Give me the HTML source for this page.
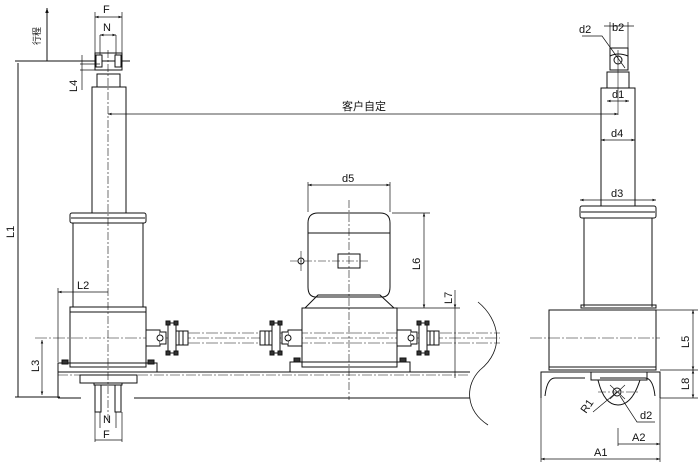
<!DOCTYPE html>
<html><head><meta charset="utf-8"><style>
html,body{margin:0;padding:0;background:#fff;}
svg{display:block;}
text{font-family:"Liberation Sans","Noto Sans CJK SC",sans-serif;font-size:11px;fill:#111;}
</style></head><body>
<svg width="700" height="471" viewBox="0 0 700 471" xmlns="http://www.w3.org/2000/svg">
<defs>
<marker id="ar" viewBox="0 0 10 10" refX="10" refY="5" markerWidth="7" markerHeight="5" orient="auto-start-reverse"><path d="M0,1.5L10,5L0,8.5z" fill="#111"/></marker>
<g id="cpl" stroke="#111" fill="#fff" stroke-width="1">
<rect x="0" y="-8" width="14" height="16"/>
<path d="M14,-6 h6 v12 h-6" />
<circle cx="14" cy="0" r="3"/>
<rect x="22" y="-15" width="8" height="30" rx="2"/>
<rect x="20" y="-17" width="4" height="4" fill="#333"/><rect x="28" y="-17" width="4" height="4" fill="#333"/>
<rect x="20" y="13" width="4" height="4" fill="#333"/><rect x="28" y="13" width="4" height="4" fill="#333"/>
<rect x="30" y="-7" width="12" height="14"/>
<line x1="33" y1="-7" x2="33" y2="7"/><line x1="37" y1="-7" x2="37" y2="7"/>
</g>
</defs>
<g stroke="#111" fill="none" stroke-width="1">
<line x1="15" y1="61" x2="130" y2="61"/>
<line x1="47" y1="61" x2="47" y2="8" marker-end="url(#ar)"/>
<line x1="18" y1="63" x2="18" y2="397"/>
<line x1="15" y1="397" x2="60" y2="397"/>
<line x1="95" y1="12" x2="95" y2="55" stroke-width="0.7"/><line x1="122" y1="12" x2="122" y2="55" stroke-width="0.7"/>
<line x1="95" y1="17" x2="122" y2="17" marker-start="url(#ar)" marker-end="url(#ar)" stroke-width="0.7"/>
<line x1="100" y1="35" x2="116" y2="35" marker-start="url(#ar)" marker-end="url(#ar)" stroke-width="0.7"/>
<line x1="100" y1="35" x2="100" y2="55" stroke-width="0.7"/><line x1="116" y1="35" x2="116" y2="55" stroke-width="0.7"/>
<path d="M95,53 h27 v17 h-27z"/>
<rect x="96" y="55" width="6" height="12" fill="#fff"/><rect x="115" y="55" width="6" height="12" fill="#fff"/>
<rect x="97" y="74" width="23" height="13"/>
<line x1="80" y1="64" x2="100" y2="64" stroke-width="0.7"/><line x1="80" y1="70" x2="100" y2="70" stroke-width="0.7"/>
<line x1="82" y1="55" x2="82" y2="90" stroke-width="0.7"/>
<rect x="92" y="87" width="34" height="126"/>
<rect x="70" y="213" width="76" height="10" rx="2"/>
<line x1="71" y1="218" x2="145" y2="218"/>
<path d="M73,223 v84 M143,223 v84"/>
<rect x="70" y="307" width="76" height="60"/>
<line x1="70" y1="312" x2="146" y2="312"/>
<rect x="58" y="363" width="99" height="9"/>
<rect x="62" y="360" width="6" height="4" fill="#333"/><rect x="148" y="360" width="6" height="4" fill="#333"/>
<line x1="58" y1="288" x2="58" y2="362" stroke-width="0.7"/>
<line x1="58" y1="292" x2="108" y2="292" marker-start="url(#ar)" stroke-width="0.7"/>
<line x1="42" y1="340" x2="42" y2="395" marker-start="url(#ar)" marker-end="url(#ar)" stroke-width="0.7"/>
<line x1="58" y1="372" x2="470" y2="372"/>
<line x1="58" y1="372" x2="58" y2="398"/>
<line x1="58" y1="398" x2="81" y2="398"/>
<line x1="134" y1="398" x2="470" y2="398"/>
<line x1="58" y1="375" x2="470" y2="375" stroke-dasharray="10,2,2,2" stroke-width="0.6"/>
<path d="M478,302 C500,320 505,350 480,370 C465,385 465,410 488,425" stroke-width="0.8"/>
<rect x="80" y="375" width="57" height="8"/>
<rect x="94" y="383" width="28" height="2"/>
<rect x="95" y="385" width="6" height="27"/><rect x="115" y="385" width="6" height="27"/>
<line x1="100" y1="412" x2="100" y2="428" stroke-width="0.7"/><line x1="116" y1="412" x2="116" y2="428" stroke-width="0.7"/>
<line x1="95" y1="412" x2="95" y2="442" stroke-width="0.7"/><line x1="122" y1="412" x2="122" y2="442" stroke-width="0.7"/>
<line x1="95" y1="440" x2="122" y2="440" stroke-width="0.7"/>
<line x1="108" y1="50" x2="108" y2="420" stroke-dasharray="8,2,2,2" stroke-width="0.6"/>
<line x1="35" y1="338" x2="500" y2="338" stroke-dasharray="12,2,2,2" stroke-width="0.6"/>
<line x1="170" y1="333" x2="500" y2="333" stroke-dasharray="12,2,2,2" stroke-width="0.6"/>
<line x1="170" y1="343" x2="500" y2="343" stroke-dasharray="12,2,2,2" stroke-width="0.6"/>
<line x1="108" y1="114" x2="618" y2="114" marker-start="url(#ar)" marker-end="url(#ar)" stroke-width="0.7"/>
<rect x="302" y="308" width="95" height="59"/>
<path d="M305,308 L318,295 H380 L394,308"/>
<rect x="290" y="362" width="120" height="10"/>
<rect x="294" y="358" width="6" height="4" fill="#333"/><rect x="400" y="358" width="6" height="4" fill="#333"/>
<path d="M316,297 Q308,297 308,287 V223 Q308,213 318,213 H380 Q390,213 390,223 V287 Q390,297 382,297 Z"/>
<line x1="308" y1="233" x2="390" y2="233"/>
<rect x="338" y="254" width="22" height="14"/>
<circle cx="301" cy="261" r="3"/>
<line x1="290" y1="261" x2="370" y2="261" stroke-dasharray="8,2,2,2" stroke-width="0.6"/>
<line x1="301" y1="251" x2="301" y2="271" stroke-width="0.6"/>
<line x1="349" y1="200" x2="349" y2="400" stroke-dasharray="8,2,2,2" stroke-width="0.6"/>
<line x1="308" y1="182" x2="308" y2="212" stroke-width="0.7"/><line x1="390" y1="182" x2="390" y2="212" stroke-width="0.7"/>
<line x1="308" y1="185" x2="390" y2="185" marker-start="url(#ar)" marker-end="url(#ar)" stroke-width="0.7"/>
<line x1="392" y1="213" x2="430" y2="213" stroke-width="0.7"/>
<line x1="397" y1="308" x2="460" y2="308" stroke-width="0.7"/>
<line x1="424" y1="213" x2="424" y2="308" marker-start="url(#ar)" marker-end="url(#ar)" stroke-width="0.7"/>
<line x1="455" y1="290" x2="455" y2="308" marker-end="url(#ar)" stroke-width="0.7"/>
<line x1="455" y1="308" x2="455" y2="378" stroke-width="0.7"/>
<rect x="610" y="48" width="18" height="22"/>
<path d="M610,56 Q618,52 628,56"/>
<circle cx="618" cy="60" r="4"/>
<line x1="610" y1="22" x2="610" y2="48" stroke-width="0.7"/><line x1="628" y1="22" x2="628" y2="48" stroke-width="0.7"/>
<line x1="604" y1="26" x2="634" y2="26" stroke-width="0.7"/>
<polyline points="582,36 602,36 625,68" stroke-width="0.7"/>
<rect x="607" y="72" width="22" height="16"/>
<rect x="601" y="88" width="34" height="118"/>
<line x1="607" y1="101" x2="629" y2="101" marker-start="url(#ar)" marker-end="url(#ar)" stroke-width="0.7"/>
<line x1="601" y1="140" x2="635" y2="140" marker-start="url(#ar)" marker-end="url(#ar)" stroke-width="0.7"/>
<line x1="580" y1="200" x2="656" y2="200" marker-start="url(#ar)" marker-end="url(#ar)" stroke-width="0.7"/>
<rect x="580" y="206" width="76" height="12" rx="2"/>
<line x1="581" y1="212" x2="655" y2="212"/>
<path d="M584,218 v89 M652,218 v89"/>
<rect x="581" y="305" width="75" height="3"/>
<rect x="549" y="310" width="107" height="60"/>
<line x1="549" y1="367" x2="656" y2="367"/>
<line x1="530" y1="338" x2="660" y2="338" stroke-dasharray="12,2,2,2" stroke-width="0.6"/>
<line x1="618" y1="50" x2="618" y2="115" stroke-width="0.6"/>
<path d="M541,398 V372 H660 V398 M545,396 Q547,378 555,378 H585 M655,396 Q653,378 645,378 H600"/>
<rect x="591" y="372" width="56" height="8"/>
<path d="M598,380 Q604,405 618,405 Q632,405 640,380"/>
<circle cx="617" cy="392" r="4"/>
<line x1="598" y1="392" x2="640" y2="392" stroke-dasharray="8,2,2,2" stroke-width="0.6"/>
<line x1="610" y1="385" x2="625" y2="399" stroke-width="0.6"/><line x1="625" y1="385" x2="610" y2="399" stroke-width="0.6"/>
<line x1="593" y1="412" x2="617" y2="392" stroke-width="0.7"/>
<polyline points="620,396 637,422 655,422" stroke-width="0.7"/>
<line x1="541" y1="398" x2="541" y2="462" stroke-width="0.7"/>
<line x1="660" y1="398" x2="660" y2="462" stroke-width="0.7"/>
<line x1="618" y1="428" x2="618" y2="446" stroke-width="0.7"/>
<line x1="618" y1="444" x2="660" y2="444" marker-end="url(#ar)" stroke-width="0.7"/>
<line x1="541" y1="459" x2="660" y2="459" marker-start="url(#ar)" marker-end="url(#ar)" stroke-width="0.7"/>
<line x1="656" y1="310" x2="698" y2="310" stroke-width="0.7"/>
<line x1="660" y1="370" x2="698" y2="370" stroke-width="0.7"/>
<line x1="660" y1="398" x2="698" y2="398" stroke-width="0.7"/>
<line x1="693" y1="310" x2="693" y2="370" marker-start="url(#ar)" marker-end="url(#ar)" stroke-width="0.7"/>
<line x1="693" y1="370" x2="693" y2="398" marker-start="url(#ar)" marker-end="url(#ar)" stroke-width="0.7"/>
</g>
<use href="#cpl" x="146" y="338"/>
<g transform="translate(302,338) scale(-1,1)"><use href="#cpl"/></g>
<use href="#cpl" x="397" y="338"/>
<text x="103" y="13">F</text>
<text x="103" y="31">N</text>
<text x="103" y="423">N</text>
<text x="103" y="438">F</text>
<text transform="translate(77,92) rotate(-90)">L4</text>
<text transform="translate(40,45) rotate(-90)" style="font-size:9px">行程</text>
<text transform="translate(14,238) rotate(-90)">L1</text>
<text x="77" y="289">L2</text>
<text transform="translate(39,372) rotate(-90)">L3</text>
<text x="342" y="110">客户自定</text>
<text x="342" y="182">d5</text>
<text transform="translate(420,270) rotate(-90)">L6</text>
<text transform="translate(452,304) rotate(-90)">L7</text>
<text x="579" y="33">d2</text>
<text x="612" y="31">b2</text>
<text x="612" y="98">d1</text>
<text x="611" y="137">d4</text>
<text x="611" y="197">d3</text>
<text transform="translate(689,348) rotate(-90)">L5</text>
<text transform="translate(689,390) rotate(-90)">L8</text>
<text transform="translate(586,414) rotate(-55)">R1</text>
<text x="640" y="419">d2</text>
<text x="632" y="441">A2</text>
<text x="594" y="456">A1</text>
</svg>
</body></html>
